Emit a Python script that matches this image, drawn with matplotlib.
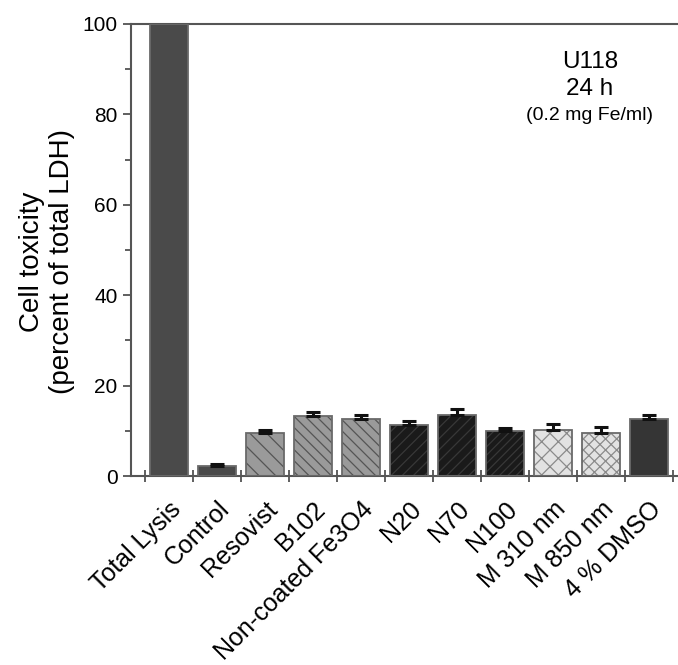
import matplotlib.pyplot as plt
import numpy as np

plt.rcParams['font.family'] = ['Liberation Sans', 'DejaVu Sans']
plt.rcParams['hatch.linewidth'] = 0.9

names = ['Total Lysis', 'Control', 'Resovist', 'B102', 'Non-coated Fe3O4',
         'N20', 'N70', 'N100', 'M 310 nm', 'M 850 nm', '4 % DMSO']
values = [100, 2.2, 9.6, 13.2, 12.7, 11.2, 13.6, 9.9, 10.2, 9.6, 12.7]
errors = [0, 0.4, 0.7, 1.0, 0.8, 0.9, 1.2, 0.8, 1.3, 1.2, 0.8]

colors = ['#4a4a4a', '#4a4a4a', '#9a9a9a', '#9a9a9a', '#9a9a9a',
          '#1a1a1a', '#1a1a1a', '#1a1a1a', '#e2e2e2', '#e2e2e2', '#353535']
hatches = ['', '', '\\\\', '\\\\\\', '\\\\\\', '///', '///', '////', 'xx', 'xxx', '']
hatch_cols = ['#4a4a4a', '#4a4a4a', '#555555', '#555555', '#555555',
              '#383838', '#383838', '#383838', '#8a8a8a', '#8a8a8a', '#353535']

fig = plt.figure(figsize=(6.78, 6.65), dpi=100)
ax = fig.add_axes([0.193, 0.284, 0.807, 0.68])

x = np.arange(len(names))
for i in range(len(names)):
    ax.bar(x[i], values[i], width=0.8, color=colors[i], edgecolor=hatch_cols[i],
           hatch=hatches[i], linewidth=0, zorder=2)
    # outline
    ax.bar(x[i], values[i], width=0.8, color='none', edgecolor='#6a6a6a',
           linewidth=1.3, zorder=3)
    if errors[i] > 0:
        ax.errorbar(x[i], values[i], yerr=[[0], [errors[i]]], fmt='none',
                    ecolor='#111111', elinewidth=2.2, capsize=5, capthick=2.2, zorder=4)

ax.set_xlim(-0.79, 10.6)
ax.set_ylim(0, 100)

ax.set_xticks(x)
ax.set_xticklabels(names, rotation=45, ha='right', rotation_mode='anchor', fontsize=18)
ax.tick_params(axis='x', which='major', length=0, pad=15)
ax.set_xticks(np.arange(-0.5, 11, 1), minor=True)
ax.tick_params(axis='x', which='minor', direction='inout', length=9, width=1.2, color='#444444')

ax.set_yticks([0, 20, 40, 60, 80, 100])
ax.set_yticks([10, 30, 50, 70, 90], minor=True)
ax.tick_params(axis='y', which='major', direction='out', length=6, width=1.2, labelsize=15, color='#444444')
ax.tick_params(axis='y', which='minor', direction='out', length=4, width=1.2, color='#444444')

ax.spines['right'].set_visible(False)
for s in ['left', 'bottom', 'top']:
    ax.spines[s].set_color('#555555')
    ax.spines[s].set_linewidth(1.5)

ax.set_ylabel('Cell toxicity\n(percent of total LDH)', fontsize=20)
ax.yaxis.set_label_coords(-0.102, 0.474)

ax.text(0.839, 0.902, 'U118', transform=ax.transAxes, ha='center', fontsize=17.5)
ax.text(0.839, 0.843, '24 h', transform=ax.transAxes, ha='center', fontsize=17.5)
ax.text(0.839, 0.787, '(0.2 mg Fe/ml)', transform=ax.transAxes, ha='center', fontsize=14)

fig.savefig('out.png', dpi=100)
